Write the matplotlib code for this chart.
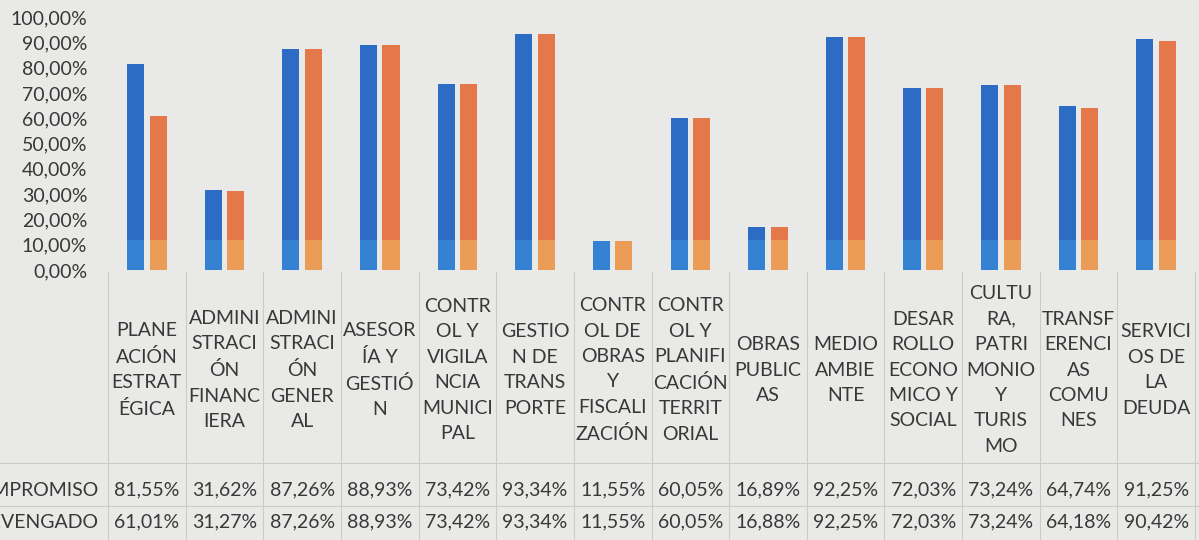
import matplotlib
matplotlib.use("Agg")
import matplotlib.pyplot as plt
import matplotlib.transforms as mtransforms
import numpy as np

# data
categorias = [
    "PLANE\nACIÓN\nESTRAT\nÉGICA",
    "ADMINI\nSTRACI\nÓN\nFINANC\nIERA",
    "ADMINI\nSTRACI\nÓN\nGENER\nAL",
    "ASESOR\nÍA Y\nGESTIÓ\nN",
    "CONTR\nOL Y\nVIGILA\nNCIA\nMUNICI\nPAL",
    "GESTIO\nN DE\nTRANS\nPORTE",
    "CONTR\nOL DE\nOBRAS\nY\nFISCALI\nZACIÓN",
    "CONTR\nOL Y\nPLANIFI\nCACIÓN\nTERRIT\nORIAL",
    "OBRAS\nPUBLIC\nAS",
    "MEDIO\nAMBIE\nNTE",
    "DESAR\nROLLO\nECONO\nMICO Y\nSOCIAL",
    "CULTU\nRA,\nPATRI\nMONIO\nY\nTURIS\nMO",
    "TRANSF\nERENCI\nAS\nCOMU\nNES",
    "SERVICI\nOS DE\nLA\nDEUDA",
]
compromiso = [81.55, 31.62, 87.26, 88.93, 73.42, 93.34, 11.55, 60.05, 16.89, 92.25, 72.03, 73.24, 64.74, 91.25]
devengado = [61.01, 31.27, 87.26, 88.93, 73.42, 93.34, 11.55, 60.05, 16.88, 92.25, 72.03, 73.24, 64.18, 90.42]
series_names = ["COMPROMISO", "DEVENGADO"]

def pct(v):
    return f"{v:.2f}%".replace(".", ",")

plt.rcParams["font.family"] = ["Lato", "DejaVu Sans"]
txt_col = "#383838"
bg = "#e9e9e7"
blue = "#2c6cc4"
orange = "#e5784a"
blue_lo = "#3682d2"
orange_lo = "#eb9d58"
line_col = "#cbcbc8"
fs = 14

fig = plt.figure(figsize=(11.99, 5.40), dpi=100)
fig.patch.set_facecolor(bg)
ax = fig.add_axes([108/1199, 1 - 270/540, (1195-108)/1199, (270-17)/540])
ax.set_facecolor("none")

n = len(categorias)
x = np.arange(n)
w = 0.22
off = 0.145
comp = np.array(compromiso)
dev = np.array(devengado)
ax.bar(x - off, comp, w, color=blue, zorder=2)
ax.bar(x + off, dev, w, color=orange, zorder=2)
# lighter band at the bottom of the bars as in the print
ax.bar(x - off, np.minimum(comp, 12), w, color=blue_lo, zorder=3)
ax.bar(x + off, np.minimum(dev, 12), w, color=orange_lo, zorder=3)

ax.set_xlim(-0.5, n - 0.5)
ax.set_ylim(0, 100)
ax.set_yticks(np.arange(0, 101, 10))
ax.set_yticklabels([pct(v) for v in np.arange(0, 101, 10)], fontsize=fs, color=txt_col)
ax.tick_params(axis="y", length=0, pad=15)
ax.set_xticks([])
for s in ax.spines.values():
    s.set_visible(False)

# data table under the chart
trans = mtransforms.blended_transform_factory(ax.transData, fig.transFigure)
def fy(py):
    return 1 - py / 540

for i in range(n + 1):
    fig.add_artist(plt.Line2D([i - 0.5, i - 0.5], [fy(272), 0], transform=trans,
                              color=line_col, lw=0.8))
for py in [463, 506]:
    fig.add_artist(plt.Line2D([0, 1], [fy(py), fy(py)], transform=fig.transFigure,
                              color=line_col, lw=0.8))

for i, lab in enumerate(categorias):
    fig.text(i, fy(370), lab, transform=trans, ha="center", va="center",
             multialignment="center", fontsize=fs, color=txt_col, linespacing=1.6)
    fig.text(i, fy(490), pct(compromiso[i]), transform=trans, ha="center", va="center",
             fontsize=fs, color=txt_col)
    fig.text(i, fy(522), pct(devengado[i]), transform=trans, ha="center", va="center",
             fontsize=fs, color=txt_col)

# row labels run off the left edge of the photographed page
fig.text(98/1199, fy(490), series_names[0], ha="right", va="center", fontsize=fs, color=txt_col)
fig.text(98/1199, fy(522), series_names[1], ha="right", va="center", fontsize=fs, color=txt_col)

fig.savefig("out.png", dpi=100, facecolor=bg)
